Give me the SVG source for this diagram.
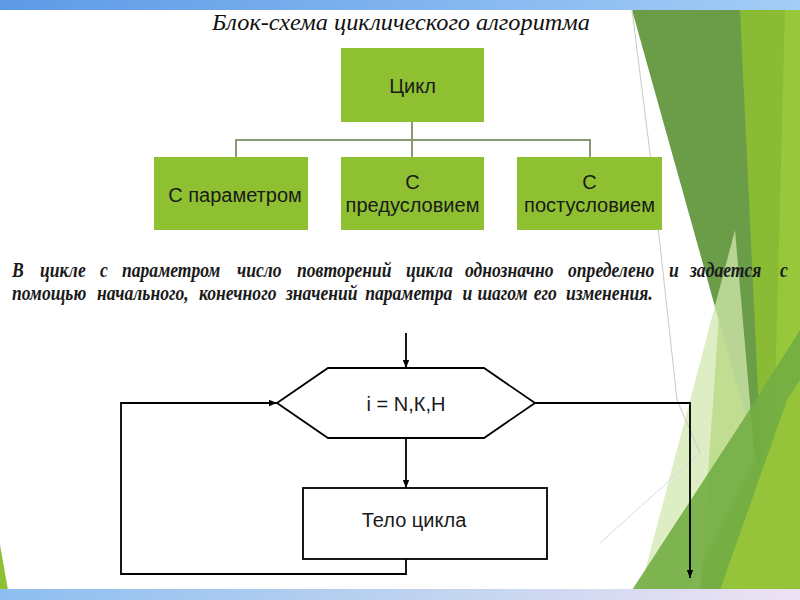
<svg xmlns="http://www.w3.org/2000/svg" width="800" height="600" viewBox="0 0 800 600">
<defs>
<linearGradient id="topbar" x1="0" y1="0" x2="1" y2="0">
<stop offset="0" stop-color="#5d9ae6"/><stop offset="1" stop-color="#a3cdf6"/>
</linearGradient>
<linearGradient id="botbar" x1="0" y1="0" x2="1" y2="0">
<stop offset="0" stop-color="#8cbef0"/><stop offset="0.6" stop-color="#c6d6f0"/><stop offset="1" stop-color="#efe2f4"/>
</linearGradient>
<marker id="arr" viewBox="0 0 10 10" refX="10" refY="5" markerWidth="8" markerHeight="8" markerUnits="userSpaceOnUse" orient="auto">
<path d="M0,1 L10,5 L0,9 Z" fill="#000"/>
</marker>
<style>
.gbox{fill:#8fc031;}
.gtxt{font-family:"Liberation Sans",Arial,sans-serif;font-size:20px;fill:#1a1a1a;text-anchor:middle;}
.org{stroke:#8a9a72;stroke-width:2;fill:none;}
.fl{stroke:#000;stroke-width:1.8;fill:none;}
.shape{stroke:#000;stroke-width:1.8;fill:#fff;}
.para{font-family:"Liberation Serif","Times New Roman",serif;font-size:20px;font-style:italic;font-weight:bold;fill:#1a1a1a;}
</style>
</defs>
<rect x="0" y="0" width="800" height="600" fill="#fff"/>
<!-- decorations -->
<g id="decor">
<polygon points="740,10 800,10 800,590 700,590" fill="#8abb35"/>
<polygon points="785,10 800,10 800,590 770,590" fill="#9ccb3e" opacity="0.8"/>
<polygon points="632,10 740,10 762,475" fill="#6b9d48"/>
<polygon points="735,230 755,460 690,590 640,590" fill="#d3e8b0" opacity="0.75"/>
<polygon points="632,590 743,420 800,330 800,590" fill="#72ad44" opacity="0.9"/>
<polygon points="720,590 787,400 800,380 800,590" fill="#95c43b"/>
<polyline points="632,10 650,153 677,400 700,453" fill="none" stroke="#c8c8c8" stroke-width="1"/>
<line x1="600" y1="543" x2="700" y2="453" stroke="#d8d8e8" stroke-width="1"/>
<polygon points="0,545 8,590 0,590" fill="#8fc031"/>
</g>
<rect x="0" y="0" width="800" height="10" fill="url(#topbar)"/>
<rect x="0" y="589" width="800" height="11" fill="url(#botbar)"/>
<!-- title -->
<text x="212" y="30" font-family="'Liberation Serif','Times New Roman',serif" font-size="23" font-style="italic" fill="#111" textLength="378" lengthAdjust="spacingAndGlyphs">Блок-схема циклического алгоритма</text>
<!-- org chart connectors -->
<g id="org-connectors">
<path class="org" d="M412,122 V140 M236,157 V140 H590 V157 M412,140 V157"/>
</g>
<g id="cycle"><rect class="gbox" x="341" y="48" width="143" height="74"/><text class="gtxt" x="412.5" y="93">Цикл</text></g>
<g id="param"><rect class="gbox" x="154" y="157" width="154" height="73"/><text class="gtxt" x="235" y="202">С параметром</text></g>
<g id="precond"><rect class="gbox" x="341" y="157" width="143" height="73"/><text class="gtxt" x="412.5" y="189">С</text><text class="gtxt" x="412.5" y="212">предусловием</text></g>
<g id="postcond"><rect class="gbox" x="517" y="157" width="145" height="73"/><text class="gtxt" x="589.5" y="189">С</text><text class="gtxt" x="589.5" y="212">постусловием</text></g>
<!-- paragraph -->
<g transform="scale(0.88,1)">
<text class="para" y="277"><tspan x="13.6">В</tspan> <tspan x="45.5">цикле</tspan> <tspan x="113.6">с</tspan> <tspan x="138.6">параметром</tspan> <tspan x="269.3">число</tspan> <tspan x="337.5">повторений</tspan> <tspan x="461.4">цикла</tspan> <tspan x="528.4">однозначно</tspan> <tspan x="645.5">определено</tspan> <tspan x="760.2">и</tspan> <tspan x="784.1">задается</tspan> <tspan x="886.4">с</tspan></text>
<text class="para" y="300"><tspan x="13.6">помощью</tspan> <tspan x="110.2">начального,</tspan> <tspan x="226.1">конечного</tspan> <tspan x="325">значений</tspan> <tspan x="415">параметра</tspan> <tspan x="525.5">и</tspan> <tspan x="542.5">шагом</tspan> <tspan x="606.5">его</tspan> <tspan x="643.2">изменения.</tspan></text>
</g>
<!-- flowchart connectors -->
<g id="flow-connectors">
<line class="fl" x1="406" y1="333" x2="406" y2="368" marker-end="url(#arr)"/>
<line class="fl" x1="406" y1="438" x2="406" y2="488" marker-end="url(#arr)"/>
<path class="fl" d="M406,559 V574 H121 V403 H277" marker-end="url(#arr)"/>
<path class="fl" d="M535,403 H690 V578" marker-end="url(#arr)"/>
</g>
<g id="loop-header"><polygon class="shape" points="277,403 328,368 484,368 535,403 484,438 328,438"/><text class="gtxt" x="406" y="411" fill="#111">i = N,К,Н</text></g>
<g id="body"><rect class="shape" x="303" y="488" width="244" height="71"/><text class="gtxt" x="414" y="527">Тело цикла</text></g>
</svg>
